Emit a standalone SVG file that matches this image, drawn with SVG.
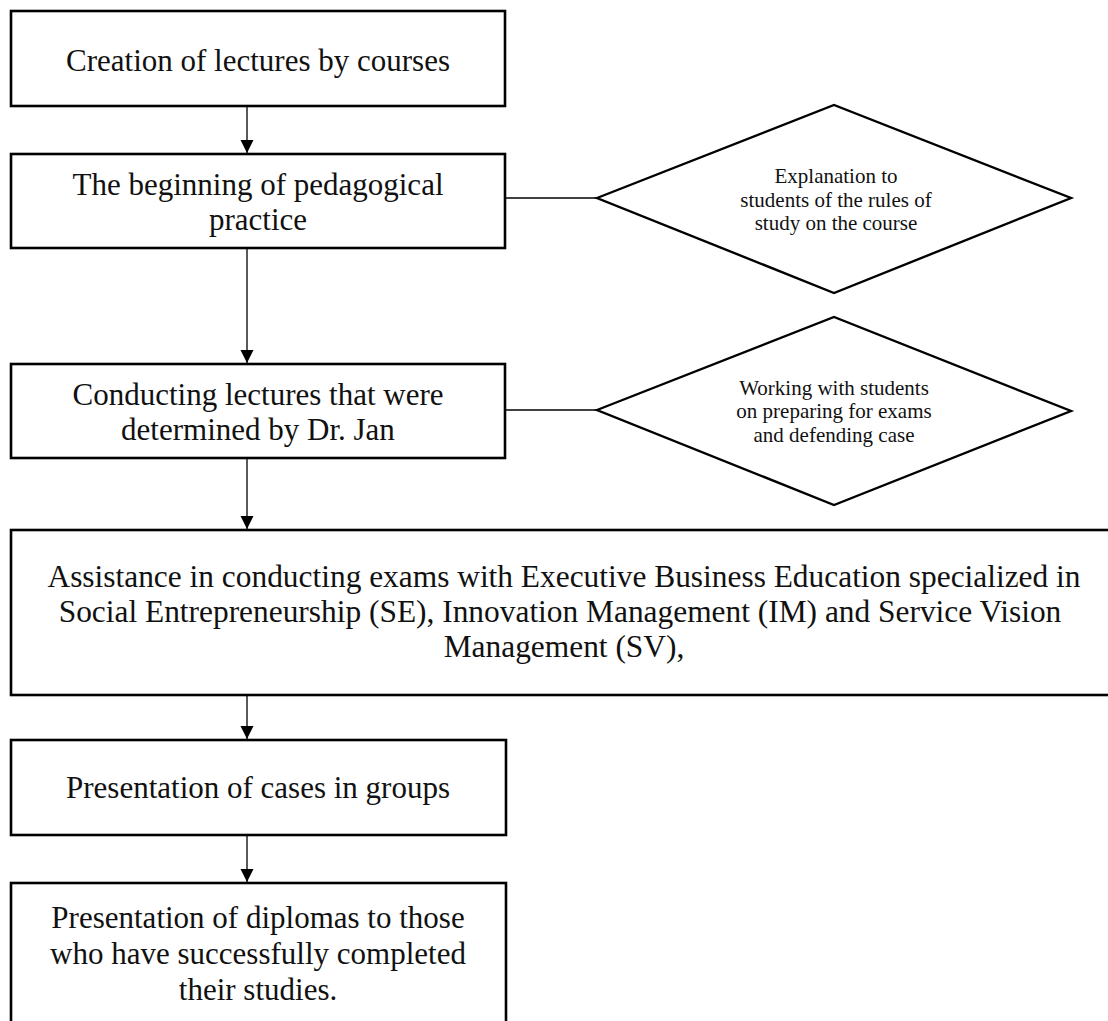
<svg xmlns="http://www.w3.org/2000/svg" width="1108" height="1021" viewBox="0 0 1108 1021">
<style>
.box{fill:#fff;stroke:#000;stroke-width:2.6}
.dia{fill:#fff;stroke:#000;stroke-width:2.4}
.t{font-family:"Liberation Serif","Times New Roman",serif;font-size:31px;fill:#111;text-anchor:middle}
.w{font-size:31.4px}
.s{font-family:"Liberation Serif","Times New Roman",serif;font-size:21px;fill:#111;text-anchor:middle}
.c{stroke:#000;stroke-width:1.3;fill:none}
</style>
<defs>
<marker id="ah" markerUnits="userSpaceOnUse" markerWidth="14" markerHeight="15" refX="13" refY="6.5" orient="auto">
<path d="M0,0 L13,6.5 L0,13 Z" fill="#000"/>
</marker>
</defs>
<rect width="1108" height="1021" fill="#fff"/>
<g id="connectors">
<line class="c" x1="247" y1="106" x2="247" y2="153" marker-end="url(#ah)"/>
<line class="c" x1="247" y1="248" x2="247" y2="363" marker-end="url(#ah)"/>
<line class="c" x1="247" y1="458" x2="247" y2="529" marker-end="url(#ah)"/>
<line class="c" x1="247" y1="695" x2="247" y2="739" marker-end="url(#ah)"/>
<line class="c" x1="247" y1="835" x2="247" y2="882" marker-end="url(#ah)"/>
<line class="c" x1="505" y1="198" x2="597" y2="198"/>
<line class="c" x1="505" y1="410" x2="597" y2="410"/>
</g>
<g id="n1">
<rect class="box" x="11" y="11" width="494" height="95"/>
<text class="t" x="258" y="71">Creation of lectures by courses</text>
</g>
<g id="n2">
<rect class="box" x="11" y="154" width="494" height="94"/>
<text class="t" x="258" y="195">The beginning of pedagogical</text>
<text class="t" x="258" y="230">practice</text>
</g>
<g id="d1">
<polygon class="dia" points="597,198 834,105 1071,198 834,293"/>
<text class="s" x="836" y="183">Explanation to</text>
<text class="s" x="836" y="207">students of the rules of</text>
<text class="s" x="836" y="230">study on the course</text>
</g>
<g id="n3">
<rect class="box" x="11" y="364" width="494" height="94"/>
<text class="t" x="258" y="405">Conducting lectures that were</text>
<text class="t" x="258" y="440">determined by Dr. Jan</text>
</g>
<g id="d2">
<polygon class="dia" points="597,410 834,317 1071,411 834,505"/>
<text class="s" x="834" y="395">Working with students</text>
<text class="s" x="834" y="418">on preparing for exams</text>
<text class="s" x="834" y="442">and defending case</text>
</g>
<g id="n4">
<rect class="box" x="11" y="530" width="1100" height="165"/>
<text class="t w" x="564" y="587">Assistance in conducting exams with Executive Business Education specialized in</text>
<text class="t w" x="560" y="622">Social Entrepreneurship (SE), Innovation Management (IM) and Service Vision</text>
<text class="t w" x="564" y="657">Management (SV),</text>
</g>
<g id="n5">
<rect class="box" x="11" y="740" width="495" height="95"/>
<text class="t" x="258" y="798">Presentation of cases in groups</text>
</g>
<g id="n6">
<rect class="box" x="11" y="883" width="495" height="145"/>
<text class="t" x="258" y="928">Presentation of diplomas to those</text>
<text class="t" x="258" y="964">who have successfully completed</text>
<text class="t" x="258" y="1000">their studies.</text>
</g>
</svg>
